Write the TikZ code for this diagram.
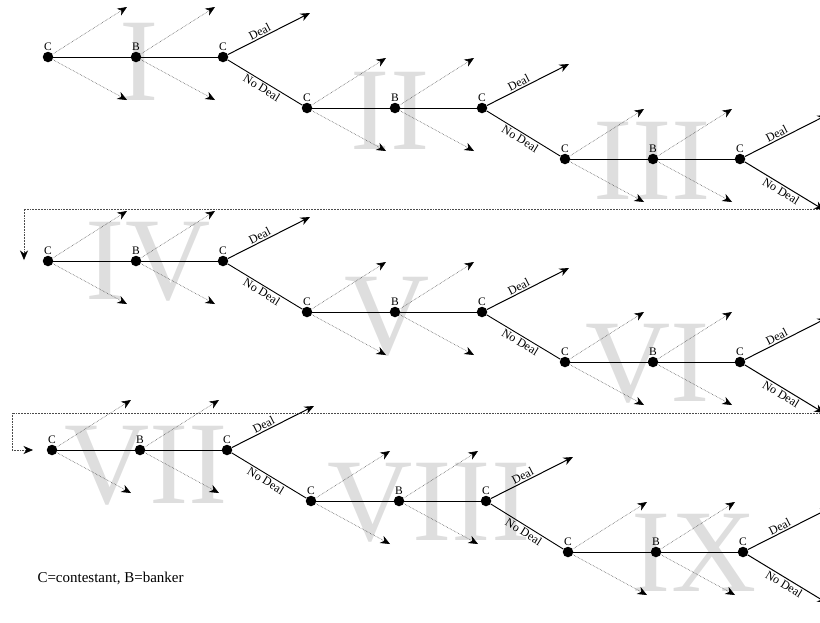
\documentclass[tikz,border=0pt]{standalone}
\usepackage{fontspec}
\setmainfont{Liberation Serif}
\usetikzlibrary{arrows.meta}

\tikzset{
  player/.style={circle, fill=black, inner sep=0pt, minimum size=10.5pt},
  tag/.style={font=\fontsize{11.5}{11.5}\selectfont, inner sep=1pt},
  move/.style={line width=0.9pt},
  deal/.style={line width=1pt, -{Stealth[length=9.5pt,width=8pt,inset=3pt]}},
  guess/.style={densely dotted, line width=0.55pt, black!70, -{Stealth[length=9.5pt,width=8pt,inset=3pt,black]}},
  choice/.style={font=\fontsize{12}{12}\selectfont, sloped, inner sep=1.5pt},
  numeral/.style={text=black!13, font=\fontsize{118}{118}\selectfont, inner sep=0pt},
}

\begin{document}
\begin{tikzpicture}[x=1pt, y=-1pt]
  \clip (0,0) rectangle (820,622);
  % Round numbers behind the tree
  \foreach \r/\x/\y in {I/139/62, II/390/111, III/652/161, IV/148/262, V/387/317,
                        VI/648/364, VII/146/466, VIII/429/503, IX/694/553}
    \node[numeral] (num-\r) at (\x,\y) {\r};
  % One round: contestant, banker, contestant
  \foreach \s/\x/\y in {1/48/57, 2/307/108, 3/565/159, 4/48/261, 5/307/312,
                        6/565/362, 7/52/450, 8/311/501, 9/568/552} {
    \node[player, label={[tag]above:C}] (c-\s) at (\x,\y) {};
    \node[player, label={[tag]above:B}] (b-\s) at (\x+88,\y) {};
    \node[player, label={[tag]above:C}] (d-\s) at (\x+175,\y) {};
    \draw[move] (c-\s) -- (b-\s) -- (d-\s);
    \draw[guess] (c-\s) -- ++(79,-50);
    \draw[guess] (c-\s) -- ++(79,43);
    \draw[guess] (b-\s) -- ++(79,-50);
    \draw[guess] (b-\s) -- ++(79,43);
    \draw[deal] (d-\s) -- node[choice, above, pos=0.42] {Deal} ++(87,-44);
  }
  % No deal leads to the next round
  \foreach \s/\t in {1/2, 2/3, 4/5, 5/6, 7/8, 8/9}
    \draw[move] (d-\s) -- node[choice, below, pos=0.5] {No Deal} (c-\t);
  \foreach \s in {3,6,9}
    \draw[deal] (d-\s) -- node[choice, below, pos=0.5] {No Deal} ++(84,51);
  % Wrap to the next line
  \draw[guess] (821,209) -| (24,260);
  \draw[guess] (821,413) -| (12,450) -- (33,450);
  % Key
  \node[anchor=west, font=\fontsize{15}{15}\selectfont] (key) at (34,578) {C=contestant, B=banker};
\end{tikzpicture}
\end{document}
